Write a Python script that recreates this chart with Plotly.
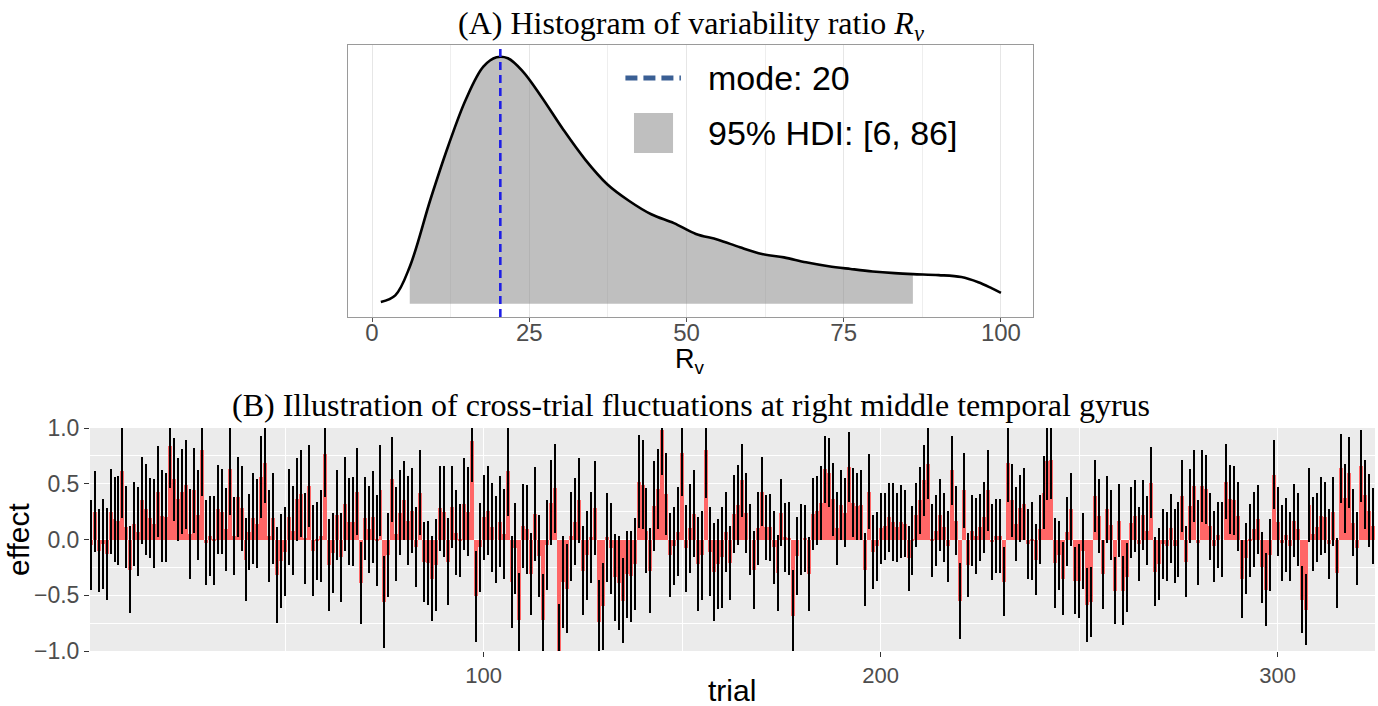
import plotly.graph_objects as go

W, H = 1378, 706

# ---------------- Panel A data: posterior density of R_v ----------------
RV_X = [1.4, 3.7, 6.0, 9.3, 12.1, 14.9, 17.7, 19.8, 21.6, 24.0, 26.9, 30.4, 33.9, 37.4, 40.9,
        44.4, 48.0, 51.5, 55.0, 58.5, 62.0, 65.5, 69.0, 72.6, 76.1, 79.6, 83.1, 86.0, 90.1,
        93.7, 96.4, 98.5, 100.0]
RV_DENS = [0.007, 0.034, 0.15, 0.424, 0.639, 0.828, 0.962, 1.0, 0.996, 0.942, 0.841, 0.707,
           0.585, 0.485, 0.417, 0.363, 0.327, 0.283, 0.260, 0.229, 0.202, 0.188, 0.168, 0.152,
           0.141, 0.131, 0.124, 0.120, 0.116, 0.108, 0.087, 0.063, 0.044]
HDI = [6, 86]
MODE = 20.4
RV_TICKS = [0, 25, 50, 75, 100]

# ---------------- Panel B data: trial-level effects ----------------
EFFECT = [
    -0.05, 0.25, -0.10, -0.04, -0.13, 0.25, 0.18, 0.17, 0.61, 0.11, -0.27, 0.14, 0.07, 0.35, 0.27, 0.19,
    0.14, 0.43, 0.21, 0.20, 0.84, 0.54, 0.36, 0.43, 0.49, 0.05, 0.44, 0.22, 0.80, -0.03, 0.03, -0.01,
    0.27, 0.25, 0.09, 0.63, 0.03, 0.38, 0.28, -0.18, 0.07, 0.19, 0.14, 0.56, 0.69, 0.03, 0.19, -0.32,
    -0.19, -0.11, 0.20, 0.08, 0.36, 0.41, 0.01, 0.48, -0.10, -0.01, 0.03, 0.77, -0.23, -0.12, 0.22, -0.16,
    0.32, 0.16, 0.16, 0.43, -0.39, 0.19, 0.09, 0.20, -0.01, 0.44, -0.56, -0.14, 0.54, 0.05, 0.24, 0.35,
    0.17, 0.26, -0.07, 0.42, -0.20, -0.21, -0.35, -0.23, 0.28, 0.25, -0.20, 0.29, 0.06, -0.01, 0.32, 0.25,
    0.88, -0.51, -0.07, 0.20, 0.26, 0.11, 0.00, 0.16, 0.05, 0.61, -0.38, -0.08, -0.72, 0.12, 0.09, -0.31,
    0.23, -0.15, -0.72, -0.05, 0.33, 0.46, -1.00, -0.38, -0.44, 0.03, 0.16, 0.35, -0.28, -0.14, 0.02, 0.28,
    -0.74, -0.60, 0.02, -0.08, -0.34, -0.39, -0.55, -0.31, -0.33, -0.22, 0.52, 0.49, 0.08, -0.28, 0.30, 0.45,
    0.98, 0.41, -0.14, -0.06, 0.07, 0.78, -0.08, 0.10, 0.23, -0.22, -0.14, 0.80, -0.11, -0.29, -0.22, -0.16,
    0.07, -0.21, 0.23, 0.31, 0.53, 0.24, 0.00, -0.27, 0.10, 0.43, 0.11, 0.11, -0.07, -0.30, 0.24, 0.02,
    0.01, -0.69, -0.15, 0.00, 0.01, -0.31, 0.23, 0.26, 0.33, 0.63, 0.60, 0.36, 0.10, 0.31, 0.24, 0.65,
    0.33, 0.30, 0.31, -0.27, 0.43, -0.11, -0.06, 0.10, 0.12, 0.20, 0.16, 0.11, 0.16, 0.14, -0.17, -0.01,
    0.22, 0.35, 0.53, 0.68, -0.01, 0.08, 0.22, 0.11, -0.06, 0.62, 0.17, -0.55, 0.44, -0.23, 0.08, 0.03,
    0.11, 0.20, 0.44, -0.02, 0.03, 0.03, -0.38, 0.69, 0.35, 0.14, 0.28, 0.32, -0.04, -0.01, -0.18, 0.09,
    0.42, 0.70, 0.71, -0.21, -0.14, -0.35, 0.07, 0.27, -0.37, -0.37, -0.10, -0.59, -0.56, 0.39, 0.21, -0.31,
    0.27, 0.13, -0.46, 0.17, -0.46, -0.34, 0.15, 0.21, -0.04, 0.22, 0.08, 0.51, -0.29, -0.22, -0.04, -0.06,
    0.10, -0.06, 0.00, 0.39, -0.20, 0.30, 0.48, -0.03, 0.48, 0.45, 0.12, -0.06, 0.04, 0.00, 0.52, 0.36,
    0.35, 0.21, -0.35, -0.17, -0.01, 0.09, 0.18, -0.25, -0.45, -0.14, 0.58, 0.16, -0.03, 0.04, -0.06, 0.17,
    0.09, -0.54, -0.63, 0.31, 0.05, 0.11, 0.21, 0.20, -0.04, 0.25, -0.30, 0.64, 0.37, 0.60, 0.15, -0.08,
    0.66, 0.40, 0.26, 0.12,
]
ERR = [
    0.40, 0.36, 0.37, 0.40, 0.41, 0.38, 0.38, 0.40, 0.42, 0.37, 0.39, 0.38, 0.40, 0.39, 0.41, 0.36,
    0.40, 0.41, 0.41, 0.40, 0.38, 0.37, 0.37, 0.38, 0.40, 0.40, 0.38, 0.40, 0.41, 0.38, 0.36, 0.40,
    0.40, 0.38, 0.37, 0.41, 0.35, 0.36, 0.38, 0.37, 0.34, 0.41, 0.40, 0.37, 0.36, 0.41, 0.41, 0.43,
    0.42, 0.40, 0.43, 0.40, 0.37, 0.39, 0.41, 0.37, 0.41, 0.35, 0.41, 0.39, 0.41, 0.36, 0.40, 0.40,
    0.42, 0.39, 0.40, 0.39, 0.37, 0.37, 0.39, 0.41, 0.41, 0.41, 0.41, 0.38, 0.38, 0.42, 0.38, 0.35,
    0.40, 0.38, 0.36, 0.38, 0.36, 0.38, 0.38, 0.41, 0.38, 0.41, 0.39, 0.37, 0.38, 0.33, 0.41, 0.40,
    0.36, 0.41, 0.40, 0.38, 0.40, 0.40, 0.39, 0.41, 0.40, 0.40, 0.41, 0.41, 0.42, 0.38, 0.40, 0.37,
    0.42, 0.37, 0.41, 0.40, 0.38, 0.40, 0.42, 0.41, 0.40, 0.40, 0.39, 0.38, 0.40, 0.40, 0.41, 0.42,
    0.38, 0.39, 0.40, 0.41, 0.39, 0.42, 0.38, 0.39, 0.41, 0.41, 0.42, 0.40, 0.38, 0.38, 0.40, 0.36,
    0.40, 0.37, 0.38, 0.35, 0.40, 0.39, 0.39, 0.40, 0.39, 0.42, 0.40, 0.43, 0.40, 0.44, 0.40, 0.45,
    0.36, 0.33, 0.35, 0.36, 0.33, 0.36, 0.32, 0.35, 0.33, 0.31, 0.29, 0.30, 0.33, 0.34, 0.30, 0.31,
    0.33, 0.42, 0.35, 0.32, 0.30, 0.33, 0.32, 0.31, 0.33, 0.30, 0.31, 0.33, 0.33, 0.31, 0.31, 0.31,
    0.31, 0.30, 0.31, 0.33, 0.34, 0.33, 0.31, 0.32, 0.30, 0.31, 0.35, 0.31, 0.33, 0.30, 0.29, 0.31,
    0.29, 0.30, 0.32, 0.32, 0.33, 0.32, 0.32, 0.31, 0.32, 0.31, 0.31, 0.34, 0.34, 0.29, 0.32, 0.34,
    0.30, 0.32, 0.36, 0.34, 0.33, 0.33, 0.31, 0.35, 0.33, 0.33, 0.30, 0.32, 0.31, 0.35, 0.32, 0.31,
    0.33, 0.35, 0.35, 0.40, 0.31, 0.33, 0.31, 0.33, 0.30, 0.33, 0.34, 0.33, 0.31, 0.32, 0.33, 0.31,
    0.30, 0.31, 0.30, 0.33, 0.31, 0.31, 0.32, 0.32, 0.33, 0.31, 0.31, 0.32, 0.31, 0.32, 0.31, 0.31,
    0.31, 0.33, 0.34, 0.32, 0.32, 0.33, 0.32, 0.38, 0.32, 0.31, 0.30, 0.32, 0.30, 0.34, 0.34, 0.31,
    0.31, 0.31, 0.35, 0.32, 0.33, 0.34, 0.31, 0.32, 0.33, 0.32, 0.31, 0.31, 0.34, 0.33, 0.31, 0.33,
    0.33, 0.30, 0.32, 0.33, 0.33, 0.31, 0.35, 0.32, 0.31, 0.31, 0.31, 0.31, 0.31, 0.32, 0.30, 0.33,
    0.32, 0.31, 0.33, 0.34,
]
TRIAL_TICKS = [100, 200, 300]
EFFECT_TICKS = [-1.0, -0.5, 0.0, 0.5, 1.0]
EFFECT_TICKTEXT = ["\u22121.0", "\u22120.5", "0.0", "0.5", "1.0"]

N = min(len(EFFECT), len(ERR))
TRIALS = list(range(1, N + 1))


def dom_x(a, b):
    return [a / W, b / W]


def dom_y(top, bottom):
    return [1 - bottom / H, 1 - top / H]


SANS = "Liberation Sans, Arial, sans-serif"
SERIF = "Liberation Serif, Times New Roman, serif"
FILL = "rgba(127,127,127,0.5)"

fig = go.Figure()

# ---- Panel A ----
hx = [x for x in RV_X if HDI[0] <= x <= HDI[1]]
hy = [d for x, d in zip(RV_X, RV_DENS) if HDI[0] <= x <= HDI[1]]
fig.add_trace(go.Scatter(x=hx, y=hy, mode="lines", line=dict(width=0, shape="spline"),
                         fill="tozeroy", fillcolor=FILL, showlegend=False, hoverinfo="skip",
                         xaxis="x", yaxis="y"))
fig.add_trace(go.Scatter(x=RV_X, y=RV_DENS, mode="lines",
                         line=dict(color="black", width=2.6, shape="spline"),
                         showlegend=False, xaxis="x", yaxis="y"))

# ---- Panel B ----
fig.add_trace(go.Bar(x=TRIALS, y=EFFECT[:N], marker=dict(color="#FF6666", line=dict(width=0)),
                     error_y=dict(type="data", array=ERR[:N], color="black", thickness=2, width=0),
                     showlegend=False, xaxis="x2", yaxis="y2"))

shapes = [
    # panel B background
    dict(type="rect", xref="x2 domain", yref="y2 domain", x0=0, x1=1, y0=0, y1=1,
         fillcolor="#EBEBEB", line=dict(width=0), layer="below"),
    # mode line
    dict(type="line", xref="x", yref="y domain", x0=MODE, x1=MODE, y0=0, y1=1,
         line=dict(color="#1E1EE6", width=2.6, dash="8px,5px"), layer="above"),
    # legend keys
    dict(type="line", xref="x domain", yref="y domain", x0=0.405, x1=0.486, y0=0.879, y1=0.879,
         line=dict(color="#3A5F94", width=5, dash="12px,6px")),
    dict(type="rect", xref="x domain", yref="y domain", x0=0.4175, x1=0.4745, y0=0.603, y1=0.750,
         fillcolor=FILL, line=dict(width=0)),
]

annotations = [
    dict(text="(A) Histogram of variability ratio <i>R<sub>v</sub></i>", xref="paper", yref="paper",
         x=691 / W, y=1 - 25 / H, xanchor="center", yanchor="middle", showarrow=False,
         font=dict(family=SERIF, size=32, color="black")),
    dict(text="(B) Illustration of cross-trial fluctuations at right middle temporal gyrus",
         xref="paper", yref="paper", x=691 / W, y=1 - 405 / H, xanchor="center", yanchor="middle",
         showarrow=False, font=dict(family=SERIF, size=32, color="black")),
    dict(text="mode: 20", xref="x domain", yref="y domain", x=0.5226, y=0.879, xanchor="left",
         yanchor="middle", showarrow=False, font=dict(family=SANS, size=34, color="black")),
    dict(text="95% HDI: [6, 86]", xref="x domain", yref="y domain", x=0.5226, y=0.676,
         xanchor="left", yanchor="middle", showarrow=False,
         font=dict(family=SANS, size=34, color="black")),
    dict(text="R<sub>v</sub>", xref="paper", yref="paper", x=690 / W, y=1 - 361 / H,
         xanchor="center", yanchor="middle", showarrow=False,
         font=dict(family=SANS, size=27, color="black")),
    dict(text="trial", xref="paper", yref="paper", x=732 / W, y=1 - 690 / H,
         xanchor="center", yanchor="middle", showarrow=False,
         font=dict(family=SANS, size=30, color="black")),
    dict(text="effect", xref="paper", yref="paper", x=18 / W, y=1 - 540 / H, textangle=-90,
         xanchor="center", yanchor="middle", showarrow=False,
         font=dict(family=SANS, size=30, color="black")),
]

fig.update_layout(
    template="none",
    width=W, height=H, margin=dict(l=0, r=0, t=0, b=0, pad=0, autoexpand=False),
    paper_bgcolor="white", plot_bgcolor="white",
    bargap=0, showlegend=False,
    font=dict(family=SANS),
    xaxis=dict(domain=dom_x(348, 1033), anchor="y", range=[-3.82, 105.1], automargin=False,
               tickvals=RV_TICKS, ticks="outside", ticklen=4, tickcolor="#555555", tickwidth=1,
               tickfont=dict(size=24, color="#4D4D4D"), ticklabelstandoff=-10,
               showgrid=True, gridcolor="#E6E6E6", gridwidth=1.2,
               minor=dict(dtick=12.5, tick0=0, showgrid=True, gridcolor="#EEEEEE", gridwidth=1,
                          ticks=""),
               showline=True, linecolor="#9A9A9A", linewidth=1, mirror=True, zeroline=False),
    yaxis=dict(domain=dom_y(45, 317), anchor="x", range=[-0.054, 1.05], automargin=False,
               showticklabels=False, ticks="", showgrid=False, zeroline=False,
               showline=True, linecolor="#9A9A9A", linewidth=1, mirror=True),
    xaxis2=dict(domain=dom_x(90, 1375), anchor="y2", range=[0.83, 324.5], automargin=False,
                tickvals=TRIAL_TICKS, ticks="outside", ticklen=5, tickcolor="#333333", tickwidth=1,
                tickfont=dict(size=22, color="#4D4D4D"),
                showgrid=True, gridcolor="white", gridwidth=1.4,
                minor=dict(dtick=50, tick0=0, showgrid=True, gridcolor="white", gridwidth=0.7,
                           ticks=""),
                showline=False, zeroline=False),
    yaxis2=dict(domain=dom_y(428, 651), anchor="x2", range=[-1, 1], automargin=False,
                tickvals=EFFECT_TICKS, ticktext=EFFECT_TICKTEXT, ticks="outside", ticklen=5,
                tickcolor="#333333", tickwidth=1, tickfont=dict(size=23, color="#4D4D4D"),
                showgrid=True, gridcolor="white", gridwidth=1.4,
                minor=dict(dtick=0.25, tick0=0, showgrid=True, gridcolor="white", gridwidth=0.7,
                           ticks=""),
                showline=False, zeroline=False),
    shapes=shapes, annotations=annotations,
)

fig.write_html("out.html", include_plotlyjs=True, config={"displayModeBar": False})
